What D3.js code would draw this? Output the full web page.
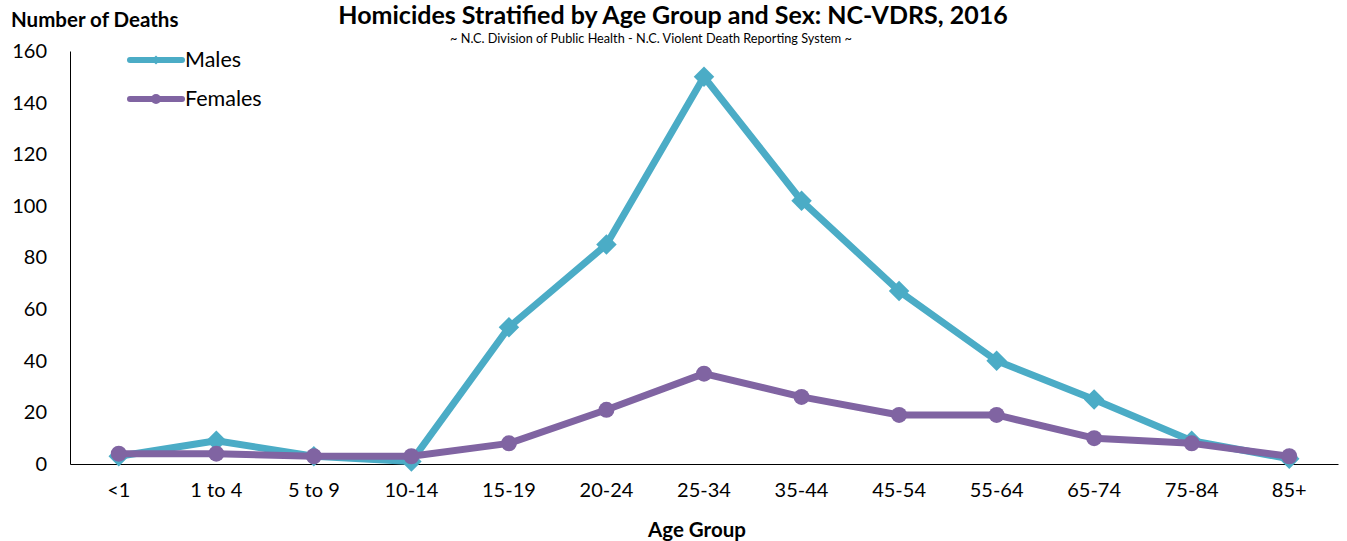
<!DOCTYPE html>
<html><head><meta charset="utf-8">
<script src="https://cdn.jsdelivr.net/npm/d3@7"></script>
<style>body{margin:0;background:#fff}svg{display:block}text{font-family:Lato,"Open Sans",sans-serif;fill:#000}</style>
</head><body>
<svg id="c" width="1347" height="541"></svg>
<script>
const categories = ["<1","1 to 4","5 to 9","10-14","15-19","20-24","25-34","35-44","45-54","55-64","65-74","75-84","85+"];
const males   = [3, 9, 3, 1, 53, 85, 150, 102, 67, 40, 25, 9, 2];
const females = [4, 4, 3, 3, 8, 21, 35, 26, 19, 19, 10, 8, 3];
const yTicks  = [0, 20, 40, 60, 80, 100, 120, 140, 160];
const seriesNames = ["Males", "Females"];
const colors = ["#4BACC6", "#8064A2"];

const svg = d3.select("#c");
const x = d3.scaleBand().domain(categories).range([70, 1338]);
const y = d3.scaleLinear().domain([0, 160]).range([464, 51]);
const cx = d => x(d) + x.bandwidth()/2;

// y axis
const ya = svg.append("g").attr("transform","translate(70,0)")
  .call(d3.axisLeft(y).tickValues(yTicks).tickSize(0).tickPadding(23));
ya.select(".domain").attr("stroke","#000").attr("stroke-width",1);
ya.selectAll("text").style("font-size","20px").style("font-family","Lato,'Open Sans',sans-serif");

// x axis
const xa = svg.append("g").attr("transform","translate(0,464)")
  .call(d3.axisBottom(x).tickSize(0).tickPadding(19));
xa.select(".domain").attr("stroke","#000").attr("stroke-width",1.2);
xa.selectAll("text").style("font-size","20px").style("font-family","Lato,'Open Sans',sans-serif");

const line = d3.line().x((d,i)=>cx(categories[i])).y(d=>y(d));

// males
svg.append("path").datum(males).attr("d", line).attr("fill","none")
  .attr("stroke", colors[0]).attr("stroke-width",7).attr("stroke-linejoin","round");
svg.append("g").selectAll("path").data(males).join("path")
  .attr("d", d3.symbol().type(d3.symbolSquare).size(210))
  .attr("transform",(d,i)=>`translate(${cx(categories[i])},${y(d)}) rotate(45)`)
  .attr("fill", colors[0]);

// females
svg.append("path").datum(females).attr("d", line).attr("fill","none")
  .attr("stroke", colors[1]).attr("stroke-width",7).attr("stroke-linejoin","round");
svg.append("g").selectAll("circle").data(females).join("circle")
  .attr("cx",(d,i)=>cx(categories[i])).attr("cy",d=>y(d)).attr("r",8)
  .attr("fill", colors[1]);

// legend
const lg = svg.append("g");
seriesNames.forEach((n,i)=>{
  const yy = 60 + i*39;
  lg.append("line").attr("x1",130).attr("x2",182).attr("y1",yy).attr("y2",yy)
    .attr("stroke",colors[i]).attr("stroke-width",6).attr("stroke-linecap","round");
  if(i===0){
    lg.append("path").attr("d", d3.symbol().type(d3.symbolSquare).size(40))
      .attr("transform",`translate(156,${yy}) rotate(45)`).attr("fill",colors[i]);
  } else {
    lg.append("circle").attr("cx",156).attr("cy",yy).attr("r",5).attr("fill",colors[i]);
  }
  lg.append("text").attr("x",185).attr("y",yy+7).style("font-size","21.5px").text(n);
});

// titles
svg.append("text").attr("x",673).attr("y",24).attr("text-anchor","middle")
  .style("font-size","25px").style("font-weight","bold")
  .text("Homicides Stratified by Age Group and Sex: NC-VDRS, 2016");
svg.append("text").attr("x",651).attr("y",43).attr("text-anchor","middle")
  .style("font-size","12.7px")
  .text("~ N.C. Division of Public Health - N.C. Violent Death Reporting System ~");
svg.append("text").attr("x",11).attr("y",27)
  .style("font-size","20.5px").style("font-weight","bold").text("Number of Deaths");
svg.append("text").attr("x",697).attr("y",537).attr("text-anchor","middle")
  .style("font-size","20.5px").style("font-weight","bold").text("Age Group");
</script>
</body></html>
